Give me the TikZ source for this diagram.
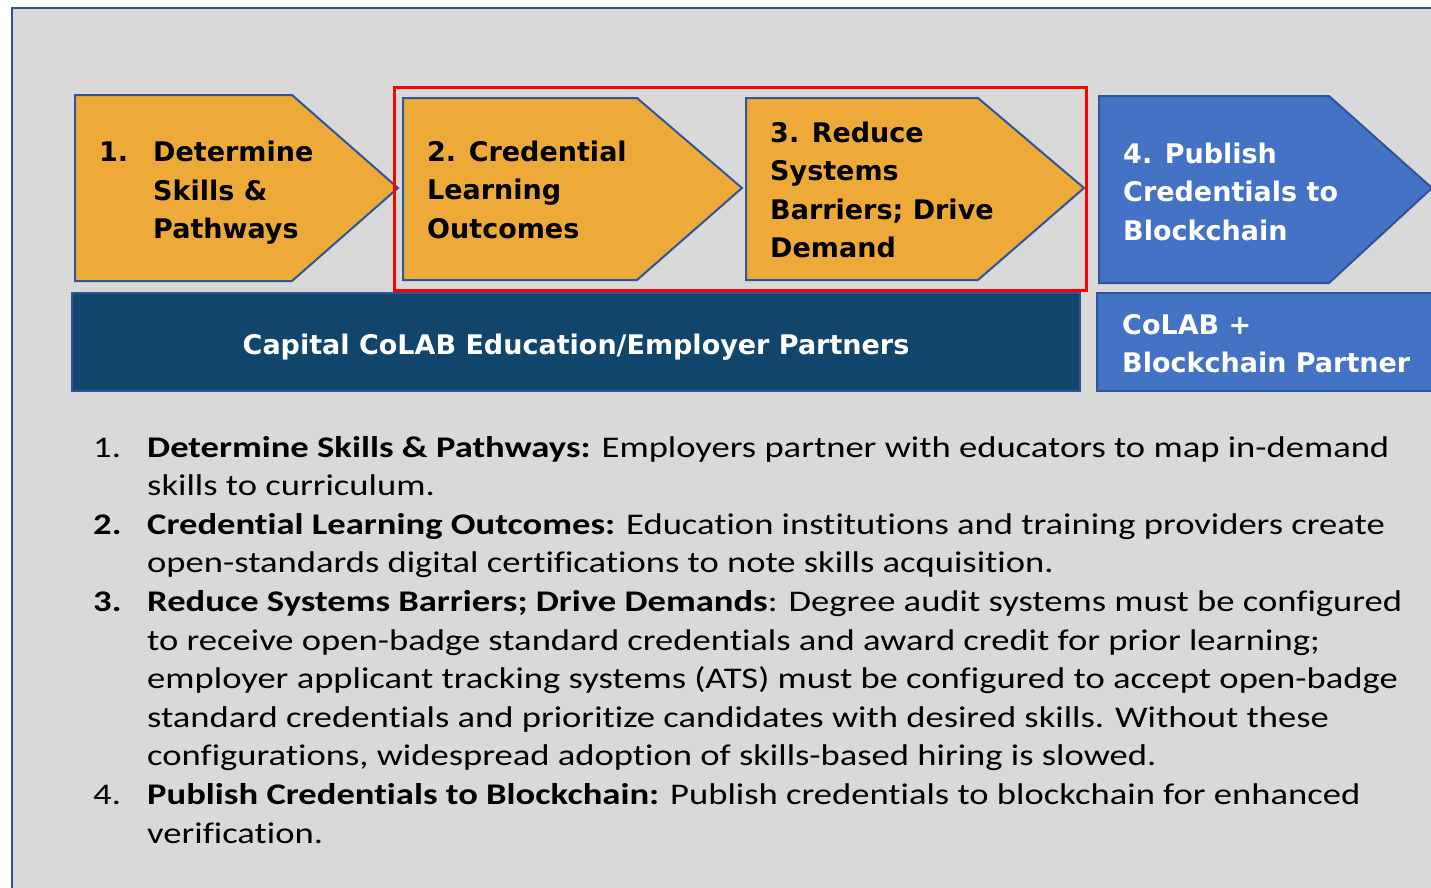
\documentclass[tikz,border=0pt]{standalone}
\usepackage{fontspec}
\setmainfont[FakeStretch=1.22, Ligatures=CommonOff]{Carlito}
\newfontfamily\boxfont{DejaVu Sans}

\definecolor{bgGray}{RGB}{217,217,217}
\definecolor{frameBlue}{RGB}{47,82,143}
\definecolor{stepGold}{RGB}{237,170,57}
\definecolor{stepEdge}{RGB}{47,85,151}
\definecolor{chainBlue}{RGB}{68,114,196}
\definecolor{partnerNavy}{RGB}{17,69,107}
\definecolor{focusRed}{RGB}{255,0,0}

\begin{document}
\begin{tikzpicture}[x=1pt, y=-1pt,
  stepshape/.style={draw=stepEdge, line width=2pt},
  steplabel/.style={anchor=base west, inner sep=0pt, align=left,
    font=\boxfont\bfseries\fontsize{27}{38.6}\selectfont},
  itemnum/.style={anchor=base west, inner sep=0pt, font=\fontsize{30}{38.6}\selectfont},
  itemtext/.style={anchor=base west, inner sep=0pt, align=left,
    font=\fontsize{30}{38.6}\selectfont}]
\useasboundingbox (0,0) rectangle (1431,887);
\clip (0,0) rectangle (1431,887);

%% Background panel
\draw[fill=bgGray, draw=frameBlue, line width=1.5pt] (12,8) rectangle (1460,910);

%% Step chevrons (labels sit on the baseline of their last line)
\draw[stepshape, fill=stepGold] (75,95) -- (292,95) -- (398,188) -- (292,281) -- (75,281) -- cycle;
\draw[stepshape, fill=stepGold] (403,98) -- (637,98) -- (742,188) -- (637,280) -- (403,280) -- cycle;
\draw[stepshape, fill=stepGold] (746,98) -- (978,98) -- (1084,188) -- (978,280) -- (746,280) -- cycle;
\draw[stepshape, fill=chainBlue] (1099,96) -- (1329,96) -- (1432,188) -- (1329,283) -- (1099,283) -- cycle;

\node[steplabel] (num1) at (99,161.5) {1.};
\node[steplabel] (step1) at (153,238.7) {Determine\\Skills \&\\Pathways};
\node[steplabel] (step2) at (427,238.2) {2. Credential\\Learning\\Outcomes};
\node[steplabel] (step3) at (770,257.8) {3. Reduce\\Systems\\Barriers; Drive\\Demand};
\node[steplabel, text=white] (step4) at (1123,240.2) {4. Publish\\Credentials to\\Blockchain};

%% Highlight round steps 2 and 3
\draw[focusRed, line width=3pt] (394,87) rectangle (1086,290);

%% Partner bars
\draw[fill=partnerNavy, draw=stepEdge, line width=2pt] (72,293) rectangle (1080,391);
\node[steplabel, anchor=base, text=white] (partners) at (576,354) {Capital CoLAB Education/Employer Partners};
\draw[fill=chainBlue, draw=stepEdge, line width=2pt] (1097,293) rectangle (1460,391);
\node[steplabel, text=white] (chainpartner) at (1122,372.6) {CoLAB +\\Blockchain Partner};

%% Numbered notes
\node[itemnum] (n1) at (93,457) {1.};
\node[itemtext] (t1) at (147,495.6) {\textbf{Determine Skills \& Pathways:} Employers partner with educators to map in-demand\\skills to curriculum.};
\node[itemnum] (n2) at (93,534.2) {\textbf{2.}};
\node[itemtext] (t2) at (147,572.8) {\textbf{Credential Learning Outcomes:} Education institutions and training providers create\\open-standards digital certifications to note skills acquisition.};
\node[itemnum] (n3) at (93,611.4) {\textbf{3.}};
\node[itemtext] (t3) at (147,765.8) {\textbf{Reduce Systems Barriers; Drive Demands}: Degree audit systems must be configured\\to receive open-badge standard credentials and award credit for prior learning;\\employer applicant tracking systems (ATS) must be configured to accept open-badge\\standard credentials and prioritize candidates with desired skills. Without these\\configurations, widespread adoption of skills-based hiring is slowed.};
\node[itemnum] (n4) at (93,804.4) {4.};
\node[itemtext] (t4) at (147,843) {\textbf{Publish Credentials to Blockchain:} Publish credentials to blockchain for enhanced\\verification.};
\end{tikzpicture}
\end{document}
